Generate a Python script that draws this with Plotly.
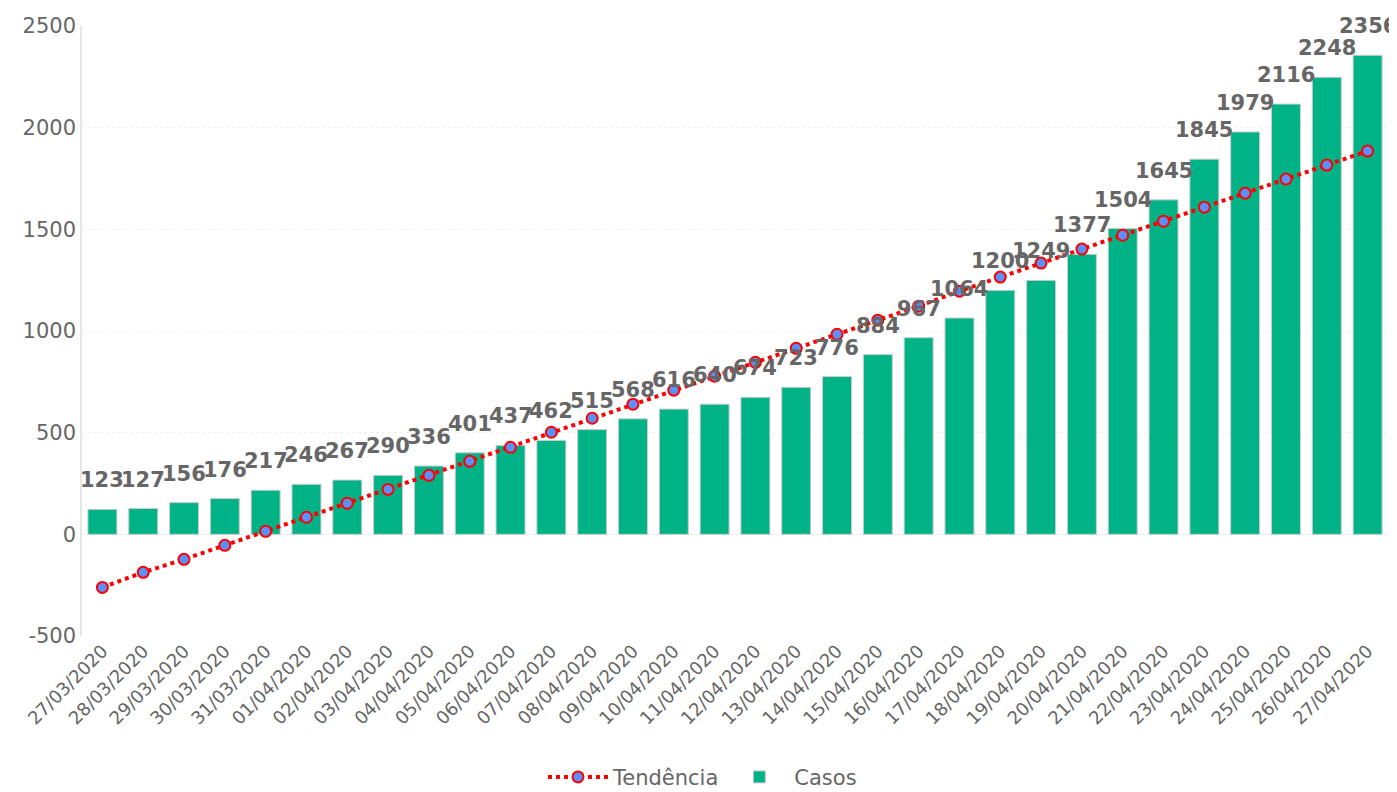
import plotly.graph_objects as go

datas = ["27/03/2020","28/03/2020","29/03/2020","30/03/2020","31/03/2020","01/04/2020","02/04/2020","03/04/2020",
         "04/04/2020","05/04/2020","06/04/2020","07/04/2020","08/04/2020","09/04/2020","10/04/2020","11/04/2020",
         "12/04/2020","13/04/2020","14/04/2020","15/04/2020","16/04/2020","17/04/2020","18/04/2020","19/04/2020",
         "20/04/2020","21/04/2020","22/04/2020","23/04/2020","24/04/2020","25/04/2020","26/04/2020","27/04/2020"]
casos = [123,127,156,176,217,246,267,290,336,401,437,462,515,568,616,640,674,723,776,884,967,1064,1200,1249,
         1377,1504,1645,1845,1979,2116,2248,2356]
tendencia = [-261,-187,-123,-54,15,84,153,221,290,359,428,502,571,640,709,778,846,915,984,1053,1122,1196,
             1265,1334,1403,1471,1540,1609,1678,1747,1816,1885]
y_ticks = [-500, 0, 500, 1000, 1500, 2000, 2500]
y_tick_labels = ["-500", "0", "500", "1000", "1500", "2000", "2500"]

fig = go.Figure()
fig.add_trace(go.Bar(
    x=datas, y=casos, name="Casos",
    marker=dict(color="#00b386", line=dict(color="#cccccc", width=1)),
))
fig.add_trace(go.Scatter(
    x=datas, y=tendencia, name="Tendência", mode="lines+markers",
    line=dict(color="#ff0000", width=4, dash="dot"),
    marker=dict(size=11, color="#5b8ff9", line=dict(color="#ff0000", width=2)),
))

for d, v in zip(datas, casos):
    fig.add_annotation(x=d, y=v, text=str(v), showarrow=False, yanchor="bottom", yshift=15,
                       font=dict(family="DejaVu Sans", size=21, color="#666666", weight="bold"))

fig.update_layout(
    width=1389, height=784,
    margin=dict(l=74, r=9, t=18, b=156, autoexpand=False),
    paper_bgcolor="white", plot_bgcolor="white",
    font=dict(family="DejaVu Sans", size=19, color="#666666"),
    bargap=0.29,
    showlegend=True,
    legend=dict(orientation="h", xref="container", x=0.5, xanchor="center", y=-0.198, yanchor="top",
                font=dict(size=21, color="#666666"), traceorder="reversed", itemwidth=60),
    xaxis=dict(type="category", range=[-0.5, len(datas) - 0.5], tickangle=-45, showgrid=False,
               showline=False, ticks="", automargin=False, tickfont=dict(size=18, color="#666666")),
    yaxis=dict(range=[-500, 2500], tickvals=y_ticks, ticktext=y_tick_labels,
               showgrid=True, gridcolor="#eeeeee", griddash="dot",
               zeroline=True, zerolinecolor="#eeeeee", zerolinewidth=1,
               showline=True, linecolor="#e6e6e6", linewidth=1.5, automargin=False,
               tickfont=dict(size=21, color="#666666")),
)

fig.write_html("out.html")
